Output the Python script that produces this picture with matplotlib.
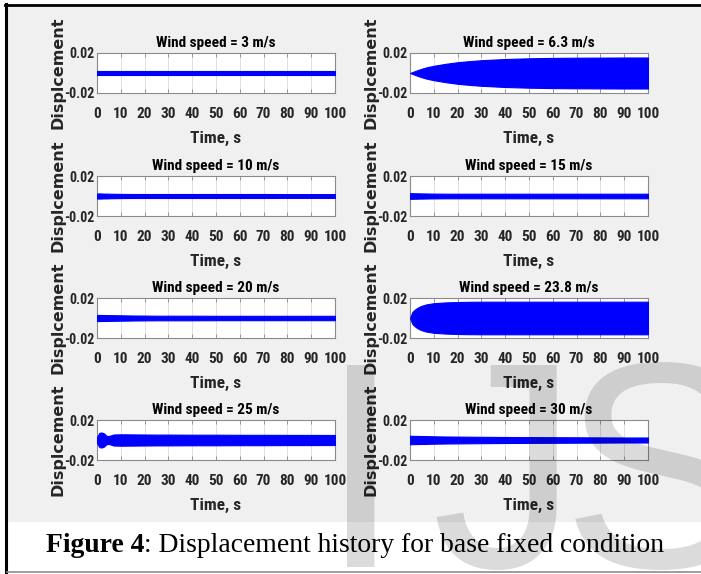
import numpy as np
import matplotlib
matplotlib.use("Agg")
import matplotlib.pyplot as plt
from matplotlib import font_manager
from matplotlib.patches import Rectangle
from matplotlib.lines import Line2D

# ── Canvas ────────────────────────────────────────────────────────────────────
W_PX, H_PX, DPI = 701, 574, 100

# ── Data: displacement envelope (m) of each run, sampled in time (s) ─────────
TITLES = ["Wind speed = 3 m/s", "Wind speed = 6.3 m/s",
          "Wind speed = 10 m/s", "Wind speed = 15 m/s",
          "Wind speed = 20 m/s", "Wind speed = 23.8 m/s",
          "Wind speed = 25 m/s", "Wind speed = 30 m/s"]

T_ENV = [0, 1, 2, 3, 4, 5, 7, 10, 15, 20, 25, 30, 40, 50, 60, 70, 80, 90, 100]

AMP_3    = [.0023, .0023, .0023, .0023, .0023, .0023, .0023, .0023, .0023, .0023,
            .0023, .0023, .0023, .0023, .0023, .0023, .0023, .0023, .0023]
AMP_6_3  = [0, .0009, .0018, .0027, .0035, .0043, .0057, .0072, .0092, .0108,
            .0119, .0128, .0140, .0147, .0151, .0153, .0154, .0155, .0155]
AMP_10   = [.0025, .0026, .0025, .0024, .0024, .0023, .0022, .0021, .0020, .0020,
            .0020, .0020, .0020, .0020, .0020, .0020, .0019, .0019, .0019]
AMP_15   = [.0028, .0028, .0027, .0027, .0026, .0026, .0025, .0024, .0023, .0023,
            .0023, .0023, .0023, .0023, .0023, .0023, .0023, .0023, .0023]
AMP_20   = [.0030, .0031, .0030, .0030, .0029, .0029, .0028, .0027, .0025, .0024,
            .0023, .0023, .0023, .0022, .0022, .0022, .0022, .0022, .0022]
AMP_23_8 = [0, .0060, .0083, .0100, .0113, .0123, .0137, .0148, .0156, .0160,
            .0162, .0163, .0163, .0163, .0163, .0163, .0163, .0163, .0163]
AMP_25   = [.0030, .0072, .0075, .0065, .0042, .0040, .0055, .0057, .0056, .0055,
            .0054, .0054, .0053, .0053, .0052, .0052, .0051, .0051, .0050]
AMP_30   = [.0042, .0042, .0041, .0041, .0040, .0040, .0039, .0037, .0035, .0034,
            .0033, .0032, .0030, .0029, .0028, .0027, .0026, .0025, .0025]

AMPS = [AMP_3, AMP_6_3, AMP_10, AMP_15, AMP_20, AMP_23_8, AMP_25, AMP_30]

X_TICKS = [0, 10, 20, 30, 40, 50, 60, 70, 80, 90, 100]
Y_TICKS = [-0.02, 0.02]
Y_TICK_LABELS = ["-0.02", "0.02"]

CAPTION_BOLD = "Figure 4"
CAPTION_REST = ": Displacement history for base fixed condition"
WATERMARK_LETTERS = ["I", "J", "S"]

# ── Style ─────────────────────────────────────────────────────────────────────
BLUE = "#0000ff"
PANEL_BG = "#f0f0f0"
FRAME = "#8a8a8a"
GRID = "#e0e0e0"
TXT = "#262626"

COL_X = [97, 410]            # axes left edge, px
ROW_Y = [53, 176, 298, 420]  # axes top edge, px
AX_W, AX_H = 238, 40
WM_X = [320, 431, 562]       # watermark letter origins, px


def pick_narrow_font():
    """Prefer a condensed sans face for the axis text, else plain Liberation Sans."""
    cands = [f for f in font_manager.fontManager.ttflist
             if f.stretch in ("condensed", "semi-condensed", "extra-condensed")
             and "Mono" not in f.name and "Serif" not in f.name]
    for pref in ("Liberation Sans Narrow", "Arial Narrow", "Roboto Condensed",
                 "Open Sans Condensed", "DejaVu Sans"):
        for f in cands:
            if f.name == pref:
                return f.name, f.stretch, True
    if cands:
        return cands[0].name, cands[0].stretch, True
    return "Liberation Sans", "normal", False


NARROW, STRETCH, IS_NARROW = pick_narrow_font()
XTICK_FS = 11 if IS_NARROW else 9
YTICK_FS = 10 if IS_NARROW else 8.5
TITLE_FS = 11 if IS_NARROW else 8.5
XLABEL_FS = 12.5 if IS_NARROW else 10


def px_box(left, top, w, h):
    return [left / W_PX, 1 - (top + h) / H_PX, w / W_PX, h / H_PX]


def fx(x):
    return x / W_PX


def fy(y):
    return 1 - y / H_PX


fig = plt.figure(figsize=(W_PX / DPI, H_PX / DPI), dpi=DPI, facecolor="white")

# grey panel and page frame
fig.patches.append(Rectangle((fx(7), fy(522)), fx(701) - fx(7), fy(6) - fy(522),
                             transform=fig.transFigure, facecolor=PANEL_BG,
                             edgecolor="none", zorder=-10))
fig.lines.append(Line2D([fx(5), fx(701)], [fy(5), fy(5)], transform=fig.transFigure,
                        color="black", lw=2.0))
fig.lines.append(Line2D([fx(6), fx(6)], [fy(4), fy(574)], transform=fig.transFigure,
                        color="black", lw=2.2))
fig.lines.append(Line2D([fx(7), fx(701)], [fy(572), fy(572)], transform=fig.transFigure,
                        color="#8c8c8c", lw=1.2))

for i, (title, amp) in enumerate(zip(TITLES, AMPS)):
    r, c = divmod(i, 2)
    ax = fig.add_axes(px_box(COL_X[c], ROW_Y[r], AX_W, AX_H))
    ax.set_facecolor("white")
    amp = np.asarray(amp)
    ax.fill_between(T_ENV, -amp, amp, color=BLUE, lw=0.8, edgecolor=BLUE, zorder=3)

    ax.set_xlim(0, 100)
    ax.set_ylim(-0.02, 0.02)
    ax.set_xticks(X_TICKS)
    ax.set_xticklabels([str(v) for v in X_TICKS])
    ax.set_yticks(Y_TICKS)
    ax.set_yticklabels(Y_TICK_LABELS)
    ax.grid(True, axis="x", color=GRID, lw=0.7, zorder=0)
    ax.tick_params(direction="in", length=3, width=0.6, color=FRAME,
                   top=True, right=True, labelcolor=TXT)
    ax.tick_params(axis="x", pad=10)
    ax.tick_params(axis="y", pad=2)
    for labs, fs in ((ax.get_xticklabels(), XTICK_FS), (ax.get_yticklabels(), YTICK_FS)):
        for lab in labs:
            lab.set_family(NARROW)
            lab.set_stretch(STRETCH)
            lab.set_fontweight("bold")
            lab.set_fontsize(fs)
    for sp in ax.spines.values():
        sp.set_color(FRAME)
        sp.set_linewidth(0.8)

    ax.set_title(title, family=NARROW, stretch=STRETCH, fontweight="bold",
                 fontsize=TITLE_FS, color="black", pad=4)
    ax.set_xlabel("Time, s", family=NARROW, stretch=STRETCH, fontweight="bold",
                  fontsize=XLABEL_FS, color=TXT, va="top")
    ax.xaxis.set_label_coords(0.5, -0.95)
    ax.set_ylabel("Displcement", family="DejaVu Sans", fontweight="bold",
                  fontsize=11.5, color=TXT)
    ax.yaxis.set_label_coords(-0.134, 0.5)

# caption: bold lead-in followed by regular text, centred as one line
renderer = fig.canvas.get_renderer()
cap_fs = 18
t1 = fig.text(0, fy(552), CAPTION_BOLD, family="Liberation Serif",
              fontweight="bold", fontsize=cap_fs, va="baseline", ha="left")
t2 = fig.text(0, fy(552), CAPTION_REST, family="Liberation Serif",
              fontsize=cap_fs, va="baseline", ha="left")
w_total = t1.get_window_extent(renderer).width + t2.get_window_extent(renderer).width
cap_fs *= 620 / w_total
t1.set_fontsize(cap_fs)
t2.set_fontsize(cap_fs)
w1 = t1.get_window_extent(renderer).width
w2 = t2.get_window_extent(renderer).width
x0 = 355 - (w1 + w2) / 2
t1.set_x(fx(x0))
t2.set_x(fx(x0 + w1))

# watermark letters drawn over everything
for letter, x in zip(WATERMARK_LETTERS, WM_X):
    fig.text(fx(x), fy(567), letter, family="Liberation Sans", fontsize=211,
             color="black", alpha=0.14, ha="left", va="baseline", zorder=20)

fig.savefig("out.png", dpi=DPI, facecolor="white")
